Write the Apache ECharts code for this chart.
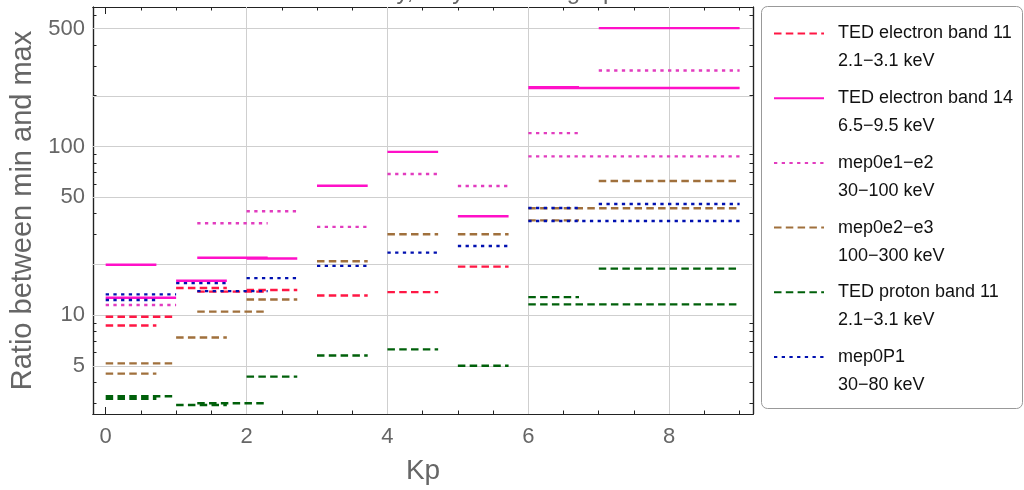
<!DOCTYPE html>
<html>
<head>
<meta charset="utf-8">
<script src="https://cdn.jsdelivr.net/npm/echarts@6/dist/echarts.min.js"></script>
<style>
html,body{margin:0;padding:0;background:#fff}
#main{width:1024px;height:490px}
</style>
</head>
<body>
<div id="main"></div>
<script>
// Kp range covered by each horizontal segment
var segStart = [0, 0, 1, 1.3, 2, 3, 4, 5, 6, 6, 7];
var segEnd   = [0.72, 1, 1.72, 2.3, 2.72, 3.72, 4.72, 5.72, 6.72, 9, 9];

// ratio between min and max, one value per segment (null = not drawn)
var tedE11   = [8.7, 9.8, 14.5, 13.8, 14.1, 13.1, 13.7, 19.4, null, null, null];
var tedE14   = [19.9, 12.7, 16.0, 21.9, 21.7, 58.5, 92.9, 38.6, 224, 222, 502];
var mepE1E2  = [null, 11.5, null, 35.1, 41.3, 33.4, 68.6, 58.3, 120, 87.3, 282];
var mepE2E3  = [4.51, 5.19, 7.38, 10.5, 12.4, 20.9, 30.2, 30.2, 36.5, 43.0, 62.4];
var tedP11   = [3.2, 3.31, 2.94, 3.01, 4.33, 5.78, 6.28, 5.02, 12.8, 11.6, 18.9];
var mepP1    = [12.3, 13.3, 15.5, 13.9, 16.6, 19.6, 23.5, 25.7, 43.2, 36.2, 45.6];

var names = ['TED electron band 11', 'TED electron band 14', 'mep0e1\u2212e2', 'mep0e2\u2212e3', 'TED proton band 11', 'mep0P1'];
var subs  = ['2.1\u22123.1 keV', '6.5\u22129.5 keV', '30\u2212100 keV', '100\u2212300 keV', '2.1\u22123.1 keV', '30\u221280 keV'];

// ticks
var xMajor = [0, 2, 4, 6, 8];
var xMinor = [0.5, 1, 1.5, 2.5, 3, 3.5, 4.5, 5, 5.5, 6.5, 7, 7.5, 8.5, 9];
var xGrid  = [2, 4, 6, 8];
var yMajor = [5, 10, 50, 100, 500];
var yMinor = [3, 4, 6, 7, 8, 9, 20, 30, 40, 60, 70, 80, 90, 200, 300, 400, 600];
var yGrid  = [5, 10, 20, 50, 100, 200, 500];

var FONT = '"Liberation Sans", Arial, sans-serif';
var lg = function (v) { return Math.log10(v); };
var xMin = -0.18, xMax = 9.19;
var yMin = lg(2.6), yMax = lg(670);

var frame = {color: '#222', width: 1.2};

function xAx(pos, ticks, len, withLabel) {
    var a = {
        type: 'value', position: pos, min: xMin, max: xMax,
        axisLine: {show: true, onZero: false, lineStyle: frame},
        axisTick: {show: true, inside: true, length: len, customValues: ticks, lineStyle: {color: '#222', width: 1}},
        axisLabel: {show: false},
        splitLine: {show: false}
    };
    if (withLabel) {
        a.axisLabel = {show: true, customValues: xMajor, margin: 12, color: '#666', fontSize: 22, fontFamily: FONT};
        a.name = 'Kp';
        a.nameLocation = 'middle';
        a.nameGap = 43;
        a.nameTextStyle = {color: '#666', fontSize: 28, fontFamily: FONT};
    }
    return a;
}
function yAx(pos, ticks, len, withLabel) {
    var a = {
        type: 'value', position: pos, min: yMin, max: yMax,
        axisLine: {show: true, onZero: false, lineStyle: frame},
        axisTick: {show: true, inside: true, length: len, customValues: ticks.map(lg), lineStyle: {color: '#222', width: 1}},
        axisLabel: {show: false},
        splitLine: {show: false}
    };
    if (withLabel) {
        a.axisLabel = {
            show: true, customValues: yMajor.map(lg), margin: 8, color: '#666', fontSize: 22, fontFamily: FONT,
            formatter: function (v) { return Math.round(Math.pow(10, v)); }
        };
        a.name = 'Ratio between min and max';
        a.nameLocation = 'middle';
        a.nameGap = 56;
        a.nameTextStyle = {color: '#666', fontSize: 29, fontFamily: FONT};
    }
    return a;
}

function segData(vals) {
    var d = [];
    for (var i = 0; i < vals.length; i++) {
        if (vals[i] == null) continue;
        d.push([segStart[i], lg(vals[i])]);
        d.push([segEnd[i], lg(vals[i])]);
        d.push([segEnd[i], '-']);
    }
    return d;
}

function mkSeries(name, vals, color, type) {
    return {
        name: name, type: 'line', data: segData(vals),
        symbol: 'none', showSymbol: false, connectNulls: false,
        animation: false, silent: true, z: 3,
        itemStyle: {color: color},
        lineStyle: {color: color, width: 2.4, type: type, cap: 'butt'},
        emphasis: {disabled: true}
    };
}

var dash = [7.5, 4.3], dot = [3.3, 4.4];

var gridMarks = yGrid.map(function (v) { return {yAxis: lg(v)}; })
    .concat(xGrid.map(function (v) { return {xAxis: v}; }));

var option = {
    backgroundColor: '#fff',
    animation: false,
    grid: {left: 93, right: 271, top: 7, bottom: 74, containLabel: false},
    xAxis: [xAx('bottom', xMajor, 7, true), xAx('bottom', xMinor, 3.5), xAx('top', xMajor, 7), xAx('top', xMinor, 3.5)],
    yAxis: [yAx('left', yMajor, 7, true), yAx('left', yMinor, 3.5), yAx('right', yMajor, 7), yAx('right', yMinor, 3.5)],
    legend: {
        orient: 'vertical', left: 773, top: -8.5, padding: 0, itemGap: -19.3,
        itemWidth: 50, itemHeight: 14, selectedMode: false,
        itemStyle: {opacity: 0},
        data: names,
        // empty first line keeps the name level with the line sample
        formatter: function (n) { return '\n' + n + '\n' + subs[names.indexOf(n)]; },
        textStyle: {fontFamily: FONT, fontSize: 18, color: '#111', lineHeight: 28, padding: [0, 0, 0, 9]}
    },
    graphic: [
        {type: 'rect', x: 761.5, y: 6.5, shape: {width: 261, height: 402, r: 6},
         style: {fill: '#fff', stroke: '#999', lineWidth: 1}, z: -10, silent: true},
        {type: 'text', x: 415, y: 4,
         style: {text: 'Ratio for each day, only increasing Kp', font: '24px ' + FONT, fill: '#666', align: 'center', verticalAlign: 'bottom'}}
    ],
    series: [
        {
            name: 'grid', type: 'line', data: [], z: 1, silent: true, animation: false,
            markLine: {
                silent: true, symbol: ['none', 'none'], animation: false, z: 1,
                label: {show: false},
                lineStyle: {color: '#cfcfcf', width: 1, type: 'solid'},
                emphasis: {disabled: true},
                data: gridMarks
            }
        },
        mkSeries(names[0], tedE11, '#ff1744', dash),
        mkSeries(names[1], tedE14, '#ff10c8', 'solid'),
        mkSeries(names[2], mepE1E2, '#e23cbf', dot),
        mkSeries(names[3], mepE2E3, '#a0703c', dash),
        mkSeries(names[4], tedP11, '#00600a', dash),
        mkSeries(names[5], mepP1, '#0010b0', dot)
    ]
};

var chart = echarts.init(document.getElementById('main'));
chart.setOption(option);
</script>
</body>
</html>
